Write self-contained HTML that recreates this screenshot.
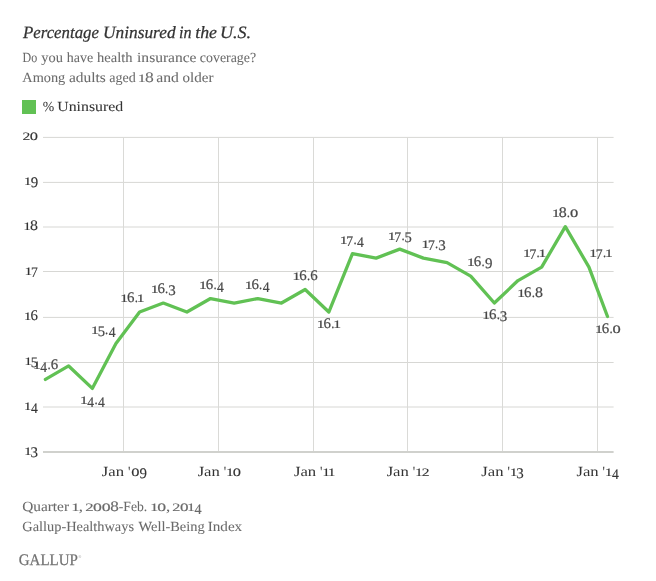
<!DOCTYPE html>
<html lang="en"><head><meta charset="utf-8"><title>Percentage Uninsured in the U.S.</title>
<style>html,body{margin:0;padding:0;background:#fff}svg{display:block}text{font-family:"Liberation Serif", serif;}</style></head><body>
<svg width="656" height="581" viewBox="0 0 656 581" text-rendering="geometricPrecision">
<rect width="656" height="581" fill="#fff"/>
<text font-size="17.3" fill="#333" xml:space="preserve" font-style="italic"><tspan stroke="#333" stroke-width="0.25" x="22.99" y="38" textLength="75.99" lengthAdjust="spacingAndGlyphs">Percentage</tspan> <tspan stroke="#333" stroke-width="0.25" x="103.02" y="38" textLength="72.54" lengthAdjust="spacingAndGlyphs">Uninsured</tspan> <tspan stroke="#333" stroke-width="0.25" x="179.1" y="38" textLength="12.57" lengthAdjust="spacingAndGlyphs">in</tspan> <tspan stroke="#333" stroke-width="0.25" x="195.22" y="38" textLength="21.78" lengthAdjust="spacingAndGlyphs">the</tspan> <tspan stroke="#333" stroke-width="0.25" x="219.94" y="38" textLength="31.2" lengthAdjust="spacingAndGlyphs">U.S.</tspan></text>
<text font-size="14" fill="#6a6a6a" xml:space="preserve"><tspan stroke="#6a6a6a" stroke-width="0.06" x="22.55" y="61.7" textLength="14.7" lengthAdjust="spacingAndGlyphs">Do</tspan> <tspan stroke="#6a6a6a" stroke-width="0.06" x="41.22" y="61.7" textLength="21.62" lengthAdjust="spacingAndGlyphs">you</tspan> <tspan stroke="#6a6a6a" stroke-width="0.06" x="66.76" y="61.7" textLength="26.42" lengthAdjust="spacingAndGlyphs">have</tspan> <tspan stroke="#6a6a6a" stroke-width="0.06" x="97.06" y="61.7" textLength="35.43" lengthAdjust="spacingAndGlyphs">health</tspan> <tspan stroke="#6a6a6a" stroke-width="0.06" x="137.07" y="61.7" textLength="59.46" lengthAdjust="spacingAndGlyphs">insurance</tspan> <tspan stroke="#6a6a6a" stroke-width="0.06" x="199.87" y="61.7" textLength="56.2" lengthAdjust="spacingAndGlyphs">coverage?</tspan></text>
<text font-size="14" fill="#6a6a6a" xml:space="preserve"><tspan stroke="#6a6a6a" stroke-width="0.06" x="22.36" y="82.3" textLength="42.91" lengthAdjust="spacingAndGlyphs">Among</tspan> <tspan stroke="#6a6a6a" stroke-width="0.06" x="68.96" y="82.3" textLength="36.8" lengthAdjust="spacingAndGlyphs">adults</tspan> <tspan stroke="#6a6a6a" stroke-width="0.06" x="109.21" y="82.3" textLength="26.46" lengthAdjust="spacingAndGlyphs">aged</tspan> <tspan stroke="#6a6a6a" stroke-width="0.06" x="137.51" y="82.3" font-size="11.4" textLength="8.57" lengthAdjust="spacingAndGlyphs">1</tspan><tspan stroke="#6a6a6a" stroke-width="0.06" x="144.98" y="82.3" font-size="14.6" textLength="8.78" lengthAdjust="spacingAndGlyphs">8</tspan> <tspan stroke="#6a6a6a" stroke-width="0.06" x="156.25" y="82.3" textLength="22.54" lengthAdjust="spacingAndGlyphs">and</tspan> <tspan stroke="#6a6a6a" stroke-width="0.06" x="182.63" y="82.3" textLength="30.8" lengthAdjust="spacingAndGlyphs">older</tspan></text>
<rect x="22" y="100" width="14" height="14" fill="#61c154"/>
<text font-size="14" fill="#333" xml:space="preserve"><tspan stroke="#333" stroke-width="0.05" x="42.63" y="110.6" textLength="11.44" lengthAdjust="spacingAndGlyphs">%</tspan> <tspan stroke="#333" stroke-width="0.05" x="57.27" y="110.6" textLength="65.93" lengthAdjust="spacingAndGlyphs">Uninsured</tspan></text>
<line x1="43" x2="613.6" y1="137.4" y2="137.4" stroke="#d7d7d4" stroke-width="1"/>
<line x1="43" x2="613.6" y1="182.4" y2="182.4" stroke="#d7d7d4" stroke-width="1"/>
<line x1="43" x2="613.6" y1="227.0" y2="227.0" stroke="#d7d7d4" stroke-width="1"/>
<line x1="43" x2="613.6" y1="271.5" y2="271.5" stroke="#d7d7d4" stroke-width="1"/>
<line x1="43" x2="613.6" y1="317.4" y2="317.4" stroke="#d7d7d4" stroke-width="1"/>
<line x1="43" x2="613.6" y1="362.5" y2="362.5" stroke="#d7d7d4" stroke-width="1"/>
<line x1="43" x2="613.6" y1="407.0" y2="407.0" stroke="#d7d7d4" stroke-width="1"/>
<line x1="123.5" x2="123.5" y1="137" y2="452" stroke="#dadad7" stroke-width="1"/>
<line x1="218.5" x2="218.5" y1="137" y2="452" stroke="#dadad7" stroke-width="1"/>
<line x1="313.5" x2="313.5" y1="137" y2="452" stroke="#dadad7" stroke-width="1"/>
<line x1="407.5" x2="407.5" y1="137" y2="452" stroke="#dadad7" stroke-width="1"/>
<line x1="502.5" x2="502.5" y1="137" y2="452" stroke="#dadad7" stroke-width="1"/>
<line x1="597.5" x2="597.5" y1="137" y2="452" stroke="#dadad7" stroke-width="1"/>
<line x1="43" x2="613.6" y1="452" y2="452" stroke="#d0d1cd" stroke-width="2"/>
<text font-size="14" fill="#333" xml:space="preserve"><tspan stroke="#333" stroke-width="0.12" x="22.57" y="140" font-size="11.4" textLength="7.82" lengthAdjust="spacingAndGlyphs">2</tspan><tspan stroke="#333" stroke-width="0.12" x="29.89" y="140" font-size="11.4" textLength="8.23" lengthAdjust="spacingAndGlyphs">0</tspan></text>
<text font-size="14" fill="#333" xml:space="preserve"><tspan stroke="#333" stroke-width="0.12" x="23.75" y="185" font-size="11.4" textLength="7.77" lengthAdjust="spacingAndGlyphs">1</tspan><tspan stroke="#333" stroke-width="0.12" x="30.66" y="187" font-size="14.6" textLength="7.46" lengthAdjust="spacingAndGlyphs">9</tspan></text>
<text font-size="14" fill="#333" xml:space="preserve"><tspan stroke="#333" stroke-width="0.12" x="23.36" y="230" font-size="11.4" textLength="7.77" lengthAdjust="spacingAndGlyphs">1</tspan><tspan stroke="#333" stroke-width="0.12" x="30.14" y="230" font-size="14.6" textLength="7.96" lengthAdjust="spacingAndGlyphs">8</tspan></text>
<text font-size="14" fill="#333" xml:space="preserve"><tspan stroke="#333" stroke-width="0.12" x="24.58" y="275" font-size="11.4" textLength="7.77" lengthAdjust="spacingAndGlyphs">1</tspan><tspan stroke="#333" stroke-width="0.12" x="31.07" y="277" font-size="14.6" textLength="6.82" lengthAdjust="spacingAndGlyphs">7</tspan></text>
<text font-size="14" fill="#333" xml:space="preserve"><tspan stroke="#333" stroke-width="0.12" x="23.75" y="320" font-size="11.4" textLength="7.77" lengthAdjust="spacingAndGlyphs">1</tspan><tspan stroke="#333" stroke-width="0.12" x="30.5" y="320" font-size="14.6" textLength="7.45" lengthAdjust="spacingAndGlyphs">6</tspan></text>
<text font-size="14" fill="#333" xml:space="preserve"><tspan stroke="#333" stroke-width="0.12" x="24.25" y="365" font-size="11.4" textLength="7.77" lengthAdjust="spacingAndGlyphs">1</tspan><tspan stroke="#333" stroke-width="0.12" x="30.79" y="367" font-size="14.6" textLength="7.28" lengthAdjust="spacingAndGlyphs">5</tspan></text>
<text font-size="14" fill="#333" xml:space="preserve"><tspan stroke="#333" stroke-width="0.12" x="23.77" y="410" font-size="11.4" textLength="7.77" lengthAdjust="spacingAndGlyphs">1</tspan><tspan stroke="#333" stroke-width="0.12" x="30.89" y="413" font-size="14.6" textLength="6.82" lengthAdjust="spacingAndGlyphs">4</tspan></text>
<text font-size="14" fill="#333" xml:space="preserve"><tspan stroke="#333" stroke-width="0.12" x="23.94" y="455" font-size="11.4" textLength="7.77" lengthAdjust="spacingAndGlyphs">1</tspan><tspan stroke="#333" stroke-width="0.12" x="30.61" y="457" font-size="14.6" textLength="7.47" lengthAdjust="spacingAndGlyphs">3</tspan></text>
<text font-size="14" fill="#333" xml:space="preserve"><tspan x="101.85" y="475.7" textLength="22.2" lengthAdjust="spacingAndGlyphs">Jan</tspan> <tspan x="127.93" y="475.7" textLength="2.44" lengthAdjust="spacingAndGlyphs">'</tspan><tspan stroke="#333" stroke-width="0.12" x="131.37" y="475.7" font-size="11.4" textLength="8.23" lengthAdjust="spacingAndGlyphs">0</tspan><tspan stroke="#333" stroke-width="0.12" x="139.5" y="477.7" font-size="14.6" textLength="7.46" lengthAdjust="spacingAndGlyphs">9</tspan></text>
<text font-size="14" fill="#333" xml:space="preserve"><tspan x="197.65" y="475.7" textLength="22.2" lengthAdjust="spacingAndGlyphs">Jan</tspan> <tspan x="223.73" y="475.7" textLength="2.44" lengthAdjust="spacingAndGlyphs">'</tspan><tspan stroke="#333" stroke-width="0.12" x="225.98" y="475.7" font-size="11.4" textLength="7.77" lengthAdjust="spacingAndGlyphs">1</tspan><tspan stroke="#333" stroke-width="0.12" x="232.75" y="475.7" font-size="11.4" textLength="8.23" lengthAdjust="spacingAndGlyphs">0</tspan></text>
<text font-size="14" fill="#333" xml:space="preserve"><tspan x="293.95" y="475.7" textLength="22.2" lengthAdjust="spacingAndGlyphs">Jan</tspan> <tspan x="320.03" y="475.7" textLength="2.44" lengthAdjust="spacingAndGlyphs">'</tspan><tspan stroke="#333" stroke-width="0.12" x="322.28" y="475.7" font-size="11.4" textLength="7.77" lengthAdjust="spacingAndGlyphs">1</tspan><tspan stroke="#333" stroke-width="0.12" x="327.86" y="475.7" font-size="11.4" textLength="7.77" lengthAdjust="spacingAndGlyphs">1</tspan></text>
<text font-size="14" fill="#333" xml:space="preserve"><tspan x="386.65" y="475.7" textLength="22.2" lengthAdjust="spacingAndGlyphs">Jan</tspan> <tspan x="412.73" y="475.7" textLength="2.44" lengthAdjust="spacingAndGlyphs">'</tspan><tspan stroke="#333" stroke-width="0.12" x="414.98" y="475.7" font-size="11.4" textLength="7.77" lengthAdjust="spacingAndGlyphs">1</tspan><tspan stroke="#333" stroke-width="0.12" x="421.69" y="475.7" font-size="11.4" textLength="7.82" lengthAdjust="spacingAndGlyphs">2</tspan></text>
<text font-size="14" fill="#333" xml:space="preserve"><tspan x="481.35" y="475.7" textLength="22.2" lengthAdjust="spacingAndGlyphs">Jan</tspan> <tspan x="507.43" y="475.7" textLength="2.44" lengthAdjust="spacingAndGlyphs">'</tspan><tspan stroke="#333" stroke-width="0.12" x="509.68" y="475.7" font-size="11.4" textLength="7.77" lengthAdjust="spacingAndGlyphs">1</tspan><tspan stroke="#333" stroke-width="0.12" x="516.36" y="477.7" font-size="14.6" textLength="7.47" lengthAdjust="spacingAndGlyphs">3</tspan></text>
<text font-size="14" fill="#333" xml:space="preserve"><tspan x="576.45" y="475.7" textLength="22.2" lengthAdjust="spacingAndGlyphs">Jan</tspan> <tspan x="602.53" y="475.7" textLength="2.44" lengthAdjust="spacingAndGlyphs">'</tspan><tspan stroke="#333" stroke-width="0.12" x="604.78" y="475.7" font-size="11.4" textLength="7.77" lengthAdjust="spacingAndGlyphs">1</tspan><tspan stroke="#333" stroke-width="0.12" x="611.91" y="478.7" font-size="14.6" textLength="6.82" lengthAdjust="spacingAndGlyphs">4</tspan></text>
<polyline points="45.4,379.41 68.65,365.93 92.3,388.4 115.95,343.47 139.6,312.02 163.25,303.03 186.9,312.02 210.55,298.54 234.2,303.03 257.85,298.54 281.5,303.03 305.15,289.55 328.8,312.02 352.45,253.61 376.1,258.1 399.75,249.12 423.4,258.1 447.05,262.59 470.7,276.07 494.35,303.03 518,280.57 541.65,267.09 565.3,226.65 588.95,267.09 607.5,316.51" fill="none" stroke="#61c154" stroke-width="3.3" stroke-linejoin="round" stroke-linecap="round"/>
<text font-size="14" fill="#484848" xml:space="preserve"><tspan stroke="#484848" stroke-width="0.2" x="33.09" y="369" font-size="11.4" textLength="7.77" lengthAdjust="spacingAndGlyphs">1</tspan><tspan stroke="#484848" stroke-width="0.2" x="40.21" y="372" font-size="14.6" textLength="6.82" lengthAdjust="spacingAndGlyphs">4</tspan><tspan stroke="#484848" stroke-width="0.2" x="47.49" y="369" font-size="14" textLength="3.18" lengthAdjust="spacingAndGlyphs">.</tspan><tspan stroke="#484848" stroke-width="0.2" x="50.69" y="369" font-size="14.6" textLength="7.45" lengthAdjust="spacingAndGlyphs">6</tspan></text>
<text font-size="14" fill="#484848" xml:space="preserve"><tspan stroke="#484848" stroke-width="0.2" x="80.1" y="404" font-size="11.4" textLength="7.77" lengthAdjust="spacingAndGlyphs">1</tspan><tspan stroke="#484848" stroke-width="0.2" x="87.22" y="407" font-size="14.6" textLength="6.82" lengthAdjust="spacingAndGlyphs">4</tspan><tspan stroke="#484848" stroke-width="0.2" x="94.5" y="404" font-size="14" textLength="3.18" lengthAdjust="spacingAndGlyphs">.</tspan><tspan stroke="#484848" stroke-width="0.2" x="98.07" y="407" font-size="14.6" textLength="6.82" lengthAdjust="spacingAndGlyphs">4</tspan></text>
<text font-size="14" fill="#484848" xml:space="preserve"><tspan stroke="#484848" stroke-width="0.2" x="91.14" y="334" font-size="11.4" textLength="7.77" lengthAdjust="spacingAndGlyphs">1</tspan><tspan stroke="#484848" stroke-width="0.2" x="97.69" y="336" font-size="14.6" textLength="7.28" lengthAdjust="spacingAndGlyphs">5</tspan><tspan stroke="#484848" stroke-width="0.2" x="105.05" y="334" font-size="14" textLength="3.18" lengthAdjust="spacingAndGlyphs">.</tspan><tspan stroke="#484848" stroke-width="0.2" x="108.63" y="337" font-size="14.6" textLength="6.82" lengthAdjust="spacingAndGlyphs">4</tspan></text>
<text font-size="14" fill="#484848" xml:space="preserve"><tspan stroke="#484848" stroke-width="0.2" x="120.28" y="302" font-size="11.4" textLength="7.77" lengthAdjust="spacingAndGlyphs">1</tspan><tspan stroke="#484848" stroke-width="0.2" x="127.03" y="302" font-size="14.6" textLength="7.45" lengthAdjust="spacingAndGlyphs">6</tspan><tspan stroke="#484848" stroke-width="0.2" x="134.69" y="302" font-size="14" textLength="3.18" lengthAdjust="spacingAndGlyphs">.</tspan><tspan stroke="#484848" stroke-width="0.2" x="136.72" y="302" font-size="11.4" textLength="7.77" lengthAdjust="spacingAndGlyphs">1</tspan></text>
<text font-size="14" fill="#484848" xml:space="preserve"><tspan stroke="#484848" stroke-width="0.2" x="150.68" y="293" font-size="11.4" textLength="7.77" lengthAdjust="spacingAndGlyphs">1</tspan><tspan stroke="#484848" stroke-width="0.2" x="157.43" y="293" font-size="14.6" textLength="7.45" lengthAdjust="spacingAndGlyphs">6</tspan><tspan stroke="#484848" stroke-width="0.2" x="165.09" y="293" font-size="14" textLength="3.18" lengthAdjust="spacingAndGlyphs">.</tspan><tspan stroke="#484848" stroke-width="0.2" x="168.22" y="295" font-size="14.6" textLength="7.47" lengthAdjust="spacingAndGlyphs">3</tspan></text>
<text font-size="14" fill="#484848" xml:space="preserve"><tspan stroke="#484848" stroke-width="0.2" x="198.99" y="289" font-size="11.4" textLength="7.77" lengthAdjust="spacingAndGlyphs">1</tspan><tspan stroke="#484848" stroke-width="0.2" x="205.74" y="289" font-size="14.6" textLength="7.45" lengthAdjust="spacingAndGlyphs">6</tspan><tspan stroke="#484848" stroke-width="0.2" x="213.41" y="289" font-size="14" textLength="3.18" lengthAdjust="spacingAndGlyphs">.</tspan><tspan stroke="#484848" stroke-width="0.2" x="216.98" y="292" font-size="14.6" textLength="6.82" lengthAdjust="spacingAndGlyphs">4</tspan></text>
<text font-size="14" fill="#484848" xml:space="preserve"><tspan stroke="#484848" stroke-width="0.2" x="244.69" y="289" font-size="11.4" textLength="7.77" lengthAdjust="spacingAndGlyphs">1</tspan><tspan stroke="#484848" stroke-width="0.2" x="251.44" y="289" font-size="14.6" textLength="7.45" lengthAdjust="spacingAndGlyphs">6</tspan><tspan stroke="#484848" stroke-width="0.2" x="259.11" y="289" font-size="14" textLength="3.18" lengthAdjust="spacingAndGlyphs">.</tspan><tspan stroke="#484848" stroke-width="0.2" x="262.68" y="292" font-size="14.6" textLength="6.82" lengthAdjust="spacingAndGlyphs">4</tspan></text>
<text font-size="14" fill="#484848" xml:space="preserve"><tspan stroke="#484848" stroke-width="0.2" x="292.53" y="280" font-size="11.4" textLength="7.77" lengthAdjust="spacingAndGlyphs">1</tspan><tspan stroke="#484848" stroke-width="0.2" x="299.28" y="280" font-size="14.6" textLength="7.45" lengthAdjust="spacingAndGlyphs">6</tspan><tspan stroke="#484848" stroke-width="0.2" x="306.95" y="280" font-size="14" textLength="3.18" lengthAdjust="spacingAndGlyphs">.</tspan><tspan stroke="#484848" stroke-width="0.2" x="310.15" y="280" font-size="14.6" textLength="7.45" lengthAdjust="spacingAndGlyphs">6</tspan></text>
<text font-size="14" fill="#484848" xml:space="preserve"><tspan stroke="#484848" stroke-width="0.2" x="316.78" y="328" font-size="11.4" textLength="7.77" lengthAdjust="spacingAndGlyphs">1</tspan><tspan stroke="#484848" stroke-width="0.2" x="323.53" y="328" font-size="14.6" textLength="7.45" lengthAdjust="spacingAndGlyphs">6</tspan><tspan stroke="#484848" stroke-width="0.2" x="331.19" y="328" font-size="14" textLength="3.18" lengthAdjust="spacingAndGlyphs">.</tspan><tspan stroke="#484848" stroke-width="0.2" x="333.22" y="328" font-size="11.4" textLength="7.77" lengthAdjust="spacingAndGlyphs">1</tspan></text>
<text font-size="14" fill="#484848" xml:space="preserve"><tspan stroke="#484848" stroke-width="0.2" x="339.86" y="244" font-size="11.4" textLength="7.77" lengthAdjust="spacingAndGlyphs">1</tspan><tspan stroke="#484848" stroke-width="0.2" x="346.35" y="246" font-size="14.6" textLength="6.82" lengthAdjust="spacingAndGlyphs">7</tspan><tspan stroke="#484848" stroke-width="0.2" x="353.44" y="244" font-size="14" textLength="3.18" lengthAdjust="spacingAndGlyphs">.</tspan><tspan stroke="#484848" stroke-width="0.2" x="357.02" y="247" font-size="14.6" textLength="6.82" lengthAdjust="spacingAndGlyphs">4</tspan></text>
<text font-size="14" fill="#484848" xml:space="preserve"><tspan stroke="#484848" stroke-width="0.2" x="387.8" y="240" font-size="11.4" textLength="7.77" lengthAdjust="spacingAndGlyphs">1</tspan><tspan stroke="#484848" stroke-width="0.2" x="394.29" y="242" font-size="14.6" textLength="6.82" lengthAdjust="spacingAndGlyphs">7</tspan><tspan stroke="#484848" stroke-width="0.2" x="401.38" y="240" font-size="14" textLength="3.18" lengthAdjust="spacingAndGlyphs">.</tspan><tspan stroke="#484848" stroke-width="0.2" x="404.38" y="242" font-size="14.6" textLength="7.28" lengthAdjust="spacingAndGlyphs">5</tspan></text>
<text font-size="14" fill="#484848" xml:space="preserve"><tspan stroke="#484848" stroke-width="0.2" x="421.49" y="248" font-size="11.4" textLength="7.77" lengthAdjust="spacingAndGlyphs">1</tspan><tspan stroke="#484848" stroke-width="0.2" x="427.98" y="250" font-size="14.6" textLength="6.82" lengthAdjust="spacingAndGlyphs">7</tspan><tspan stroke="#484848" stroke-width="0.2" x="435.08" y="248" font-size="14" textLength="3.18" lengthAdjust="spacingAndGlyphs">.</tspan><tspan stroke="#484848" stroke-width="0.2" x="438.2" y="250" font-size="14.6" textLength="7.47" lengthAdjust="spacingAndGlyphs">3</tspan></text>
<text font-size="14" fill="#484848" xml:space="preserve"><tspan stroke="#484848" stroke-width="0.2" x="467.13" y="266" font-size="11.4" textLength="7.77" lengthAdjust="spacingAndGlyphs">1</tspan><tspan stroke="#484848" stroke-width="0.2" x="473.88" y="266" font-size="14.6" textLength="7.45" lengthAdjust="spacingAndGlyphs">6</tspan><tspan stroke="#484848" stroke-width="0.2" x="481.55" y="266" font-size="14" textLength="3.18" lengthAdjust="spacingAndGlyphs">.</tspan><tspan stroke="#484848" stroke-width="0.2" x="484.91" y="268" font-size="14.6" textLength="7.46" lengthAdjust="spacingAndGlyphs">9</tspan></text>
<text font-size="14" fill="#484848" xml:space="preserve"><tspan stroke="#484848" stroke-width="0.2" x="482.23" y="319" font-size="11.4" textLength="7.77" lengthAdjust="spacingAndGlyphs">1</tspan><tspan stroke="#484848" stroke-width="0.2" x="488.98" y="319" font-size="14.6" textLength="7.45" lengthAdjust="spacingAndGlyphs">6</tspan><tspan stroke="#484848" stroke-width="0.2" x="496.64" y="319" font-size="14" textLength="3.18" lengthAdjust="spacingAndGlyphs">.</tspan><tspan stroke="#484848" stroke-width="0.2" x="499.77" y="321" font-size="14.6" textLength="7.47" lengthAdjust="spacingAndGlyphs">3</tspan></text>
<text font-size="14" fill="#484848" xml:space="preserve"><tspan stroke="#484848" stroke-width="0.2" x="517.29" y="297" font-size="11.4" textLength="7.77" lengthAdjust="spacingAndGlyphs">1</tspan><tspan stroke="#484848" stroke-width="0.2" x="524.04" y="297" font-size="14.6" textLength="7.45" lengthAdjust="spacingAndGlyphs">6</tspan><tspan stroke="#484848" stroke-width="0.2" x="531.7" y="297" font-size="14" textLength="3.18" lengthAdjust="spacingAndGlyphs">.</tspan><tspan stroke="#484848" stroke-width="0.2" x="534.94" y="297" font-size="14.6" textLength="7.96" lengthAdjust="spacingAndGlyphs">8</tspan></text>
<text font-size="14" fill="#484848" xml:space="preserve"><tspan stroke="#484848" stroke-width="0.2" x="522.99" y="257" font-size="11.4" textLength="7.77" lengthAdjust="spacingAndGlyphs">1</tspan><tspan stroke="#484848" stroke-width="0.2" x="529.48" y="259" font-size="14.6" textLength="6.82" lengthAdjust="spacingAndGlyphs">7</tspan><tspan stroke="#484848" stroke-width="0.2" x="536.57" y="257" font-size="14" textLength="3.18" lengthAdjust="spacingAndGlyphs">.</tspan><tspan stroke="#484848" stroke-width="0.2" x="538.6" y="257" font-size="11.4" textLength="7.77" lengthAdjust="spacingAndGlyphs">1</tspan></text>
<text font-size="14" fill="#484848" xml:space="preserve"><tspan stroke="#484848" stroke-width="0.2" x="552.03" y="217" font-size="11.4" textLength="7.77" lengthAdjust="spacingAndGlyphs">1</tspan><tspan stroke="#484848" stroke-width="0.2" x="558.81" y="217" font-size="14.6" textLength="7.96" lengthAdjust="spacingAndGlyphs">8</tspan><tspan stroke="#484848" stroke-width="0.2" x="566.83" y="217" font-size="14" textLength="3.18" lengthAdjust="spacingAndGlyphs">.</tspan><tspan stroke="#484848" stroke-width="0.2" x="570.05" y="217" font-size="11.4" textLength="8.23" lengthAdjust="spacingAndGlyphs">0</tspan></text>
<text font-size="14" fill="#484848" xml:space="preserve"><tspan stroke="#484848" stroke-width="0.2" x="589.34" y="257" font-size="11.4" textLength="7.77" lengthAdjust="spacingAndGlyphs">1</tspan><tspan stroke="#484848" stroke-width="0.2" x="595.83" y="259" font-size="14.6" textLength="6.82" lengthAdjust="spacingAndGlyphs">7</tspan><tspan stroke="#484848" stroke-width="0.2" x="602.92" y="257" font-size="14" textLength="3.18" lengthAdjust="spacingAndGlyphs">.</tspan><tspan stroke="#484848" stroke-width="0.2" x="604.95" y="257" font-size="11.4" textLength="7.77" lengthAdjust="spacingAndGlyphs">1</tspan></text>
<text font-size="14" fill="#484848" xml:space="preserve"><tspan stroke="#484848" stroke-width="0.2" x="594.97" y="333" font-size="11.4" textLength="7.77" lengthAdjust="spacingAndGlyphs">1</tspan><tspan stroke="#484848" stroke-width="0.2" x="601.72" y="333" font-size="14.6" textLength="7.45" lengthAdjust="spacingAndGlyphs">6</tspan><tspan stroke="#484848" stroke-width="0.2" x="609.39" y="333" font-size="14" textLength="3.18" lengthAdjust="spacingAndGlyphs">.</tspan><tspan stroke="#484848" stroke-width="0.2" x="612.6" y="333" font-size="11.4" textLength="8.23" lengthAdjust="spacingAndGlyphs">0</tspan></text>
<text font-size="14" fill="#6a6a6a" xml:space="preserve"><tspan stroke="#6a6a6a" stroke-width="0.06" x="22.27" y="510.9" textLength="46.76" lengthAdjust="spacingAndGlyphs">Quarter</tspan> <tspan stroke="#6a6a6a" stroke-width="0.15" x="71.33" y="510.9" font-size="11.4" textLength="8.47" lengthAdjust="spacingAndGlyphs">1</tspan><tspan stroke="#6a6a6a" stroke-width="0.06" x="78.76" y="510.9" textLength="4.2" lengthAdjust="spacingAndGlyphs">,</tspan> <tspan stroke="#6a6a6a" stroke-width="0.15" x="85.17" y="510.9" font-size="11.4" textLength="8.42" lengthAdjust="spacingAndGlyphs">2</tspan><tspan stroke="#6a6a6a" stroke-width="0.15" x="93.06" y="510.9" font-size="11.4" textLength="8.87" lengthAdjust="spacingAndGlyphs">0</tspan><tspan stroke="#6a6a6a" stroke-width="0.15" x="101.65" y="510.9" font-size="11.4" textLength="8.87" lengthAdjust="spacingAndGlyphs">0</tspan><tspan stroke="#6a6a6a" stroke-width="0.15" x="110.27" y="510.9" font-size="14.6" textLength="8.58" lengthAdjust="spacingAndGlyphs">8</tspan><tspan stroke="#6a6a6a" stroke-width="0.06" x="118.79" y="510.9" textLength="28.4" lengthAdjust="spacingAndGlyphs">-Feb.</tspan> <tspan stroke="#6a6a6a" stroke-width="0.15" x="149.96" y="510.9" font-size="11.4" textLength="8.35" lengthAdjust="spacingAndGlyphs">1</tspan><tspan stroke="#6a6a6a" stroke-width="0.15" x="157.22" y="510.9" font-size="11.4" textLength="8.85" lengthAdjust="spacingAndGlyphs">0</tspan><tspan stroke="#6a6a6a" stroke-width="0.06" x="165.96" y="510.9" textLength="4.2" lengthAdjust="spacingAndGlyphs">,</tspan> <tspan stroke="#6a6a6a" stroke-width="0.15" x="172.39" y="510.9" font-size="11.4" textLength="8.11" lengthAdjust="spacingAndGlyphs">2</tspan><tspan stroke="#6a6a6a" stroke-width="0.15" x="180" y="510.9" font-size="11.4" textLength="8.54" lengthAdjust="spacingAndGlyphs">0</tspan><tspan stroke="#6a6a6a" stroke-width="0.15" x="187.04" y="510.9" font-size="11.4" textLength="8.07" lengthAdjust="spacingAndGlyphs">1</tspan><tspan stroke="#6a6a6a" stroke-width="0.15" x="194.44" y="513.9" font-size="14.6" textLength="7.08" lengthAdjust="spacingAndGlyphs">4</tspan></text>
<text font-size="14" fill="#6a6a6a" xml:space="preserve"><tspan stroke="#6a6a6a" stroke-width="0.06" x="22.31" y="530.7" textLength="111.71" lengthAdjust="spacingAndGlyphs">Gallup-Healthways</tspan> <tspan stroke="#6a6a6a" stroke-width="0.06" x="138.59" y="530.7" textLength="66.08" lengthAdjust="spacingAndGlyphs">Well-Being</tspan> <tspan stroke="#6a6a6a" stroke-width="0.06" x="207.75" y="530.7" textLength="34.43" lengthAdjust="spacingAndGlyphs">Index</tspan></text>
<text font-size="16.2" fill="#727272" xml:space="preserve"><tspan stroke="#727272" stroke-width="0.25" x="18.79" y="565" textLength="59.11" lengthAdjust="spacingAndGlyphs">GALLUP</tspan></text>
<text font-size="4" fill="#999" xml:space="preserve"><tspan x="78.3" y="557.5">®</tspan></text>
</svg></body></html>
